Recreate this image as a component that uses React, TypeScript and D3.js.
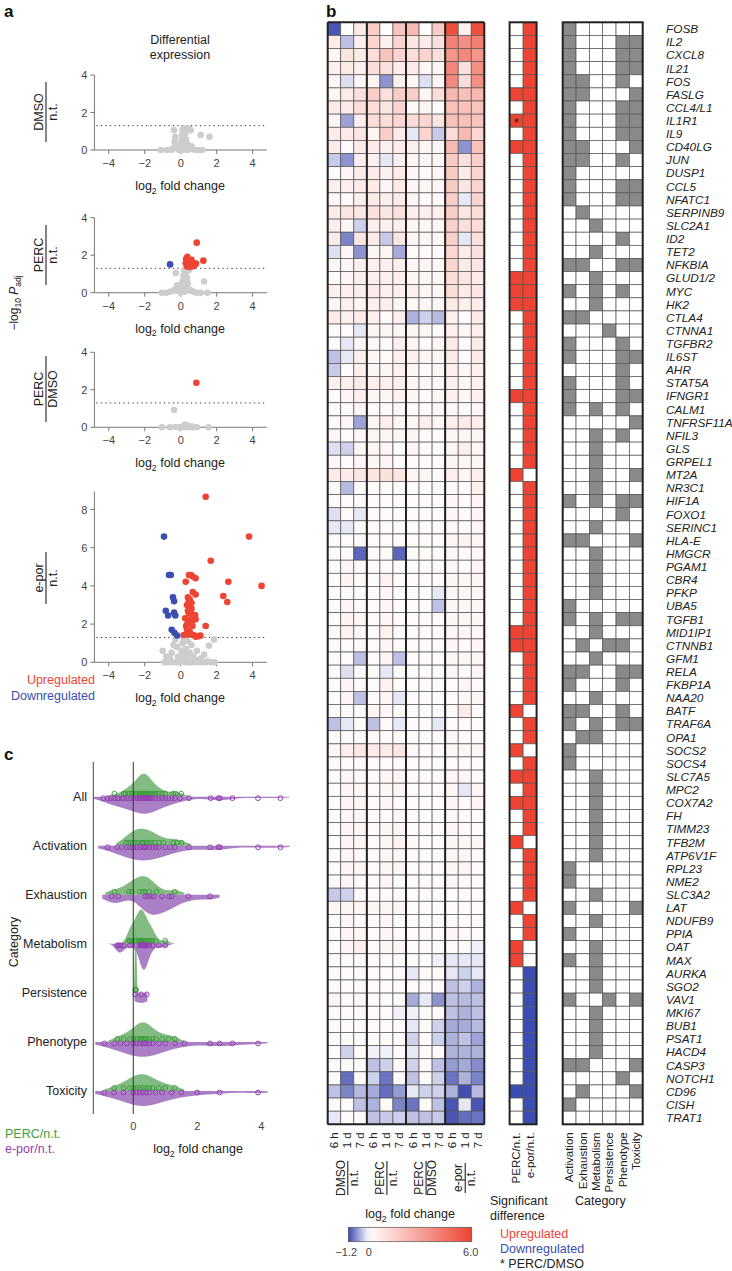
import React from 'react';
import * as d3 from 'd3';

const FONT = '"Liberation Sans", Arial, Helvetica, sans-serif';
const RED = '#ee4433';
const BLUE = '#3a4db0';
const GRAYPT = '#cdcdcd';
const GREEN = '#3e9e3e';
const PURPLE = '#9440b2';
const TXT = '#222';

// ---------- panel b data ----------
const genes = ['FOSB','IL2','CXCL8','IL21','FOS','FASLG','CCL4/L1','IL1R1','IL9','CD40LG','JUN','DUSP1','CCL5','NFATC1','SERPINB9','SLC2A1','ID2','TET2','NFKBIA','GLUD1/2','MYC','HK2','CTLA4','CTNNA1','TGFBR2','IL6ST','AHR','STAT5A','IFNGR1','CALM1','TNFRSF11A','NFIL3','GLS','GRPEL1','MT2A','NR3C1','HIF1A','FOXO1','SERINC1','HLA-E','HMGCR','PGAM1','CBR4','PFKP','UBA5','TGFB1','MID1IP1','CTNNB1','GFM1','RELA','FKBP1A','NAA20','BATF','TRAF6A','OPA1','SOCS2','SOCS4','SLC7A5','MPC2','COX7A2','FH','TIMM23','TFB2M','ATP6V1F','RPL23','NME2','SLC3A2','LAT','NDUFB9','PPIA','OAT','MAX','AURKA','SGO2','VAV1','MKI67','BUB1','PSAT1','HACD4','CASP3','NOTCH1','CD96','CISH','TRAT1'];
const timeLabels = ['6 h', '1 d', '7 d'];
const groupNum = ['DMSO', 'PERC', 'PERC', 'e-por'];
const groupDen = ['n.t.', 'n.t.', 'DMSO', 'n.t.'];
const heat = [
[-1.1,0,0.65,1.6,0,1.9,2.2,0,1.7,5.6,0.5,5.6],
[0.65,-0.4,0.5,1.4,0.5,1.4,0.8,0.65,1.0,4.0,3.6,4.1],
[0.3,0.8,0.65,1.1,1.9,1.4,1.1,1.4,1.0,3.4,3.8,3.4],
[0.5,0.65,0.5,1.1,1.0,0.65,0.65,0.3,0.3,3.9,1.0,3.6],
[0.3,-0.2,0.3,0.3,-0.7,0.5,0.3,-0.2,0.3,3.8,1.1,3.6],
[0.3,0.65,1.0,1.6,1.0,1.6,1.6,0.3,1.1,2.3,2.1,2.3],
[0.65,0.65,1.1,1.1,0.8,1.4,0.15,0.3,0.15,2.0,2.0,1.9],
[0.3,-0.6,0.5,1.1,1.1,1.3,1.1,1.3,0.8,2.0,2.0,1.9],
[0.65,0.65,0.8,0.3,1.6,0.65,-0.15,1.4,-0.35,1.1,2.2,1.3],
[0.65,0.15,0.65,0.65,0.5,0.65,0.5,0.3,0.3,2.2,-0.7,2.0],
[-0.35,-0.7,0.5,0.5,-0.15,0.5,0.3,0.3,0.3,1.7,1.0,1.6],
[0.15,0.3,0.65,0.65,0.5,0.65,0.3,0.15,0.3,1.7,0.65,1.4],
[0.5,0.5,0.65,0.65,0.3,0.65,0.3,0.3,0.3,1.7,0.8,1.4],
[0.3,0.15,0.5,0.65,0.5,0.65,0.3,0.15,0.15,1.6,-0.15,1.4],
[0.65,0.8,0.8,1.0,0.8,1.0,0.5,0.5,0.5,1.6,0.8,1.1],
[0.5,0.3,-0.3,0.5,0.5,0.5,0.3,0.3,0.3,1.5,1.0,1.1],
[0.65,-0.8,0.8,0.65,-0.35,0.8,0.3,0.3,0.3,1.5,-0.15,1.0],
[-0.2,0.3,-0.7,0.3,0.3,-0.55,0.15,0.15,0.15,1.3,0.65,1.0],
[0.3,0.3,0.5,0.5,0.5,0.5,0.3,0.3,0.3,1.3,0.65,0.8],
[0.15,0.3,0.5,0.5,0.5,0.5,0.3,0.3,0.3,1.1,0.8,0.65],
[0.5,0.5,0.5,0.65,0.5,0.5,0.5,0.3,0.3,1.1,0.65,0.8],
[0.3,0.5,0.3,0.5,0.5,0.3,0.3,0.3,0.3,0.65,0.5,0.65],
[0.65,0.5,0.65,0.5,0.15,0.5,-0.5,-0.3,-0.45,0.5,0.15,0.65],
[0.15,0.15,-0.15,0.3,0.3,0.3,0.3,0.3,0.15,0.5,0.3,0.5],
[0.15,-0.15,0.3,0.3,0.15,0.5,0.3,0.15,0.3,0.65,0.15,0.65],
[-0.4,-0.15,0.5,0.3,0.15,0.5,0.5,0.3,0.3,0.65,0.15,0.65],
[-0.35,0.15,0.5,0.3,0.3,0.5,0.3,0.15,0.3,0.5,0.3,0.5],
[0.5,0.5,0.65,0.5,0.5,0.5,0.3,0.3,0.3,0.5,0.3,0.5],
[0.15,0.3,0.5,0.3,0.3,0.5,0.3,0.15,0.3,0.5,0.3,0.5],
[0.15,0.15,0.3,0.15,0.15,0.3,0.15,0.15,0.3,0.3,0.15,0.3],
[0.15,0.3,-0.6,0.3,0.5,0.3,0.3,0.5,0.3,0.5,0.65,0.5],
[0.3,0.15,0.3,0.3,0.3,0.3,0.3,0.15,0.15,0.3,0.3,0.3],
[-0.2,-0.3,0.3,0.3,0.3,0.15,0.3,0.15,0.15,0.3,0.5,0.3],
[0.3,0.15,0.3,0.3,0.3,0.15,0.15,0.15,0.15,0.3,0.3,0.3],
[0.65,0.65,0.8,0.8,1.0,0.8,0.3,0.3,0.15,0.5,0.3,0.5],
[0.15,-0.45,0.15,0.15,0.15,0.15,0.15,0.15,0.15,0.3,0.15,0.5],
[0.15,0.15,0.15,0.15,0.15,0.15,0.15,0.15,0.15,0.3,0.15,0.3],
[-0.2,0.15,-0.15,0.15,0.15,0.15,0.15,0.15,0.15,0.3,0.15,0.3],
[-0.15,-0.15,0.15,0.15,0.15,0.15,0.15,0.15,0.15,0.3,0.15,0.3],
[0.15,0.15,0.15,0.15,0.15,0.15,0.15,0.15,0.15,0.3,0.4,0.3],
[0.15,0.15,-1.0,0.15,0.15,-1.0,0.15,0.15,0.15,0.3,0.15,0.3],
[0.15,0.3,0.15,0.15,0.15,0.15,0.15,0.15,0.15,0.3,0.15,0.3],
[0.15,0.4,0.15,0.15,0.4,0.15,0.15,0.15,0.15,0.3,0.3,0.3],
[0.15,0.15,0.15,0.15,0.3,0.15,0.15,0.15,-0.15,0.3,0.3,0.3],
[0.15,0.3,0.15,0.15,0.3,0.15,0.15,0.15,-0.4,0.3,0.3,0.3],
[0.15,0.4,0.3,0.15,0.3,0.15,0.15,0.15,0.15,0.3,0.3,0.3],
[0.15,0.4,0.3,0.15,0.4,0.15,0.15,0.15,0.15,0.3,0.3,0.3],
[0.15,0.15,0.15,0.15,0.3,0.15,0.15,0.15,0.15,0.3,0.15,0.3],
[0.15,0.15,-0.4,0.15,0.3,-0.4,0.15,0.15,0.15,0.3,0.3,0.3],
[0.15,-0.2,0.15,0.15,-0.15,0.15,0.15,0.15,0.15,0.3,0.15,0.3],
[0.15,0.3,0.15,0.15,0.4,0.15,0.15,0.15,0.15,0.15,0.3,0.15],
[0.15,0.3,-0.4,0.15,0.3,-0.15,0.15,0.15,0.15,0.15,0.3,0.3],
[0.15,0.15,0.15,0.3,0.3,0.15,0.15,0.15,0.15,0.15,0.65,0.15],
[-0.4,-0.15,0.15,-0.4,0.15,-0.15,0.15,0.15,-0.15,0.15,0.15,0.15],
[0.15,0.15,0.15,0.15,0.15,0.15,0.15,0.15,0.15,0.3,0.15,0.15],
[0.3,0.5,0.75,0.65,0.65,0.8,0.15,0.15,0.15,0.3,0.3,0.3],
[0.15,0.15,0.15,0.15,0.15,0.15,0.15,0.15,0.15,0.15,0.15,0.15],
[0.15,0.3,0.15,0.15,0.3,0.3,0.15,0.15,0.15,0.3,0.3,0.15],
[0.15,0.3,0.3,0.15,0.3,0.3,0.15,0.15,0.15,0.3,-0.15,0.3],
[0.15,0.3,0.3,0.15,0.3,0.15,0.15,0.15,0.15,0.3,0.15,0.3],
[0.15,0.3,0.3,0.15,0.15,0.3,0.15,0.15,0.15,0.3,0.15,0.15],
[0.15,0.3,0.3,0.15,0.3,0.3,0.15,0.15,0.15,0.3,0.15,0.15],
[0.15,0.3,0.3,0.15,0.3,0.4,0.15,0.15,0.15,0.3,0.3,0.3],
[0.15,0.3,0.15,0.15,0.3,0.3,0.15,0.15,0.15,0.3,0.3,0.15],
[0.15,0.3,0.3,0.15,0.3,0.3,0.15,0.15,0.15,0.3,0.3,0.15],
[0.15,0.3,0.15,0.15,0.3,0.15,0.15,0.15,0.15,0.3,0.15,0.15],
[-0.35,-0.3,0.15,0.15,0.15,0.15,0.15,0.15,0.15,0.15,0.15,0.15],
[0.3,0.3,0.3,0.3,0.3,0.3,0.15,0.15,0.15,0.15,0.15,0.15],
[0.15,0.3,0.15,0.15,0.3,0.15,0.15,0.15,0.15,0.15,0.15,0.15],
[0.15,0.3,0.3,0.15,0.3,0.15,0.15,0.15,0.15,0.3,0.15,0.15],
[0.15,0.3,0.5,0.15,0.3,0.3,0.15,0.15,0.15,0.15,0.15,-0.1],
[0.15,0.15,0.15,0.15,0.15,0.15,0.15,0.15,-0.1,-0.15,-0.15,-0.15],
[0.15,0.15,0.15,0.15,0.15,0.15,-0.15,0.15,0.15,-0.15,-0.3,-0.15],
[0.15,0.15,0.15,0.15,0.15,0.15,0.15,0.15,0.15,-0.4,-0.3,-0.5],
[0.3,0.15,0.3,0.15,0.15,0.15,-0.55,-0.15,-0.7,-0.4,-0.45,-0.4],
[0.15,0.15,0.15,0.15,0.15,-0.1,-0.1,0.15,0.15,-0.4,-0.5,-0.4],
[0.15,0.15,0.15,0.15,0.15,0.15,-0.15,0.15,-0.3,-0.55,-0.55,-0.45],
[0.15,0.15,0.15,0.15,0.15,0.15,-0.3,0.15,-0.3,-0.5,-0.4,-0.6],
[0.15,-0.3,0.15,-0.1,-0.1,0.15,-0.15,0.15,0.15,-0.5,-0.5,-0.5],
[0.15,0.15,0.15,-0.4,-0.3,0.15,-0.3,0.15,-0.4,-0.65,-0.55,-0.75],
[0.15,-0.95,0.15,-0.3,-0.9,0.15,-0.4,0.15,-0.3,-0.9,-0.5,-0.8],
[-0.4,-0.8,-0.45,-0.55,-0.95,-0.65,-0.15,-0.3,-0.3,-0.5,-1.15,-0.45],
[0.15,0.15,-0.4,-0.5,0.15,-0.8,-0.9,0.15,-0.4,-1.1,-0.15,-1.1],
[-0.15,0.15,0.15,-0.4,-0.35,-0.3,-0.4,-0.4,-0.35,-1.1,-0.95,-0.9],
];
const sigLabels = ['PERC/n.t.', 'e-por/n.t.'];
const percUpRows = [5,7,9,19,20,21,28,34,46,47,52,55,57,59,62,67,70,71];
const percDownRows = [81];
const percVsDmsoRows = [7];
const eporNotSigRows = [34,52,55,62,67,70,71];
const eporDownRows = [72,73,74,75,76,77,78,79,80,81,82,83];
const catNames = ['Activation','Exhaustion','Metabolism','Persistence','Phenotype','Toxicity'];
const catMembership = ['100000','100011','100011','100011','110010','110001','100011','100011','100011','110001','110010','100000','100011','100011','010000','001000','000010','001000','110011','001000','101010','001000','110000','000100','100010','100011','000010','100010','100011','101010','000001','001010','001000','001000','001001','001000','101011','000010','001000','110001','001000','001000','001000','001000','100000','101011','001000','010110','001000','110011','100010','001000','110010','101011','011000','100000','100000','001000','001000','001000','001000','001000','001000','001000','100000','100000','001000','100001','001000','100000','001000','101000','001000','001000','100101','001000','001000','001000','001000','110001','000010','010001','100000','000000'];
const colorbarTicks = [-1.2, 0, 6.0];

// ---------- panel a data: [log2 fold change, -log10 Padj] ----------
const volDMSO = [[-1.1,0],[-0.75,0],[-0.5,0.02],[-0.4,0.1],[-0.37,1.07],[-0.3,0.71],[-0.35,0.45],[-0.25,0.3],[-0.15,0.15],[-0.1,0.02],[0,0],[0.05,0.2],[0.05,0.5],[0.08,0.8],[0.1,1.05],[0.15,1.15],[0.22,1.1],[0.3,1.15],[0.4,1.15],[0.5,1.12],[0.55,1.05],[0.25,0.9],[0.2,0.7],[0.3,0.55],[0.15,0.4],[0.35,0.3],[0.25,0.15],[0.45,0.1],[0.6,0.05],[0.8,0],[1.0,0],[1.2,0],[1.11,0.8],[1.6,0.71],[0.15,0],[0.4,0],[0.6,0.2],[0.1,0.3]];
const volPERC = [[-1.05,0],[-0.8,0],[-0.6,0.05],[-0.35,0.15],[-0.28,1.05],[-0.2,0.4],[-0.1,0.1],[0,0],[0.05,0.3],[0.1,0.6],[0.15,0.9],[0.2,1.2],[0.25,1.25],[0.3,1.1],[0.35,0.8],[0.4,0.5],[0.3,0.3],[0.5,0.15],[0.6,0.1],[0.7,0.05],[0.9,0],[1.1,0],[1.3,0.6],[1.48,0],[0.2,0.05],[0.45,1.2],[0.1,0.2],[0.89,2.67],[1.26,1.71],[0.37,1.92],[0.28,1.57],[0.4,1.7],[0.45,1.45],[0.55,1.55],[0.6,1.75],[0.7,1.6],[0.75,1.45],[0.5,1.38],[0.35,1.4],[0.65,1.4],[0.85,1.55],[0.3,1.8],[-0.59,1.51]];
const volPERCDMSO = [[-1.05,0],[-0.6,0],[-0.37,0.92],[-0.3,0.02],[-0.1,0],[0.05,0.02],[0.15,0.05],[0.25,0.15],[0.3,0.05],[0.4,0],[0.5,0.02],[0.7,0],[0.9,0],[1.55,0],[0.2,0],[0.35,0.1],[0.6,0.05],[0.87,2.38]];
const volEpor = [[1.39,8.67],[3.8,6.58],[1.67,5.32],[2.65,4.22],[2.37,3.47],[2.59,3.16],[4.5,4.0],[0.46,4.57],[0.57,4.57],[0.65,4.5],[0.28,4.22],[0.83,4.4],[0.67,3.68],[0.83,3.55],[0.4,3.4],[0.45,3.2],[0.5,3.3],[0.35,3.0],[0.5,2.9],[0.6,2.8],[0.46,2.55],[0.55,2.6],[0.4,2.7],[0.5,2.2],[0.38,2.05],[0.3,1.9],[0.6,2.1],[0.8,2.48],[0.83,2.25],[1.39,1.9],[0.72,1.43],[0.83,1.34],[1.0,1.37],[0.17,1.43],[0.5,1.6],[0.35,1.7],[0.65,1.9],[0.25,2.3],[0.6,3.1],[0.7,2.4],[0.45,1.45],[1.1,1.4],
[-0.93,6.58],[-0.65,4.57],[-0.55,4.57],[-0.43,3.4],[-0.37,3.2],[-0.83,2.7],[-0.7,2.45],[-0.37,2.6],[-0.3,2.45],[-0.5,1.7],[-0.35,1.55],[-0.2,1.4],
[-1.0,0.6],[-0.9,0],[-0.7,0],[-0.6,0.2],[-0.5,0.5],[-0.4,0.9],[-0.3,1.2],[-0.2,0.8],[-0.15,0.3],[-0.05,0],[0,0.15],[0.05,0.6],[0.1,1.0],[0.15,1.25],[0.2,0.4],[0.3,0.7],[0.35,0.2],[0.4,1.1],[0.5,0.5],[0.55,0],[0.6,0.9],[0.7,0.3],[0.8,0.1],[0.9,0.6],[1.0,0],[1.1,0.2],[1.2,0],[1.3,0.4],[1.5,0.05],[1.57,0.87],[1.7,0],[1.85,1.2],[1.9,0],[-0.8,0.3],[0.25,0],[0.45,0],[0.65,0],[0.85,0],[-0.25,0],[-0.45,0],[1.4,0]];
const volcanoTicksX = [-4, -2, 0, 2, 4];
const pThreshold = 1.3;

// ---------- panel c data: log2 fold change per category ----------
const cCategories = ['All','Activation','Exhaustion','Metabolism','Persistence','Phenotype','Toxicity'];
const cPerc = [
 [-0.59,-0.3,-0.25,-0.14,-0.05,-0.03,0.05,0.1,0.15,0.2,0.22,0.25,0.28,0.3,0.32,0.35,0.38,0.4,0.42,0.45,0.5,0.55,0.6,0.65,0.7,0.8,0.9,1.0,1.25,1.32,1.5],
 [-0.23,-0.16,-0.08,0,0.08,0.16,0.26,0.3,0.33,0.42,0.5,0.57,0.68,0.81,0.94,1.25,1.36,1.51],
 [-0.59,-0.14,-0.05,0.2,0.3,0.37,0.5,0.73,1.3],
 [-0.14,-0.1,-0.05,0,0.05,0.1,0.15,0.18,0.2,0.22,0.25,0.27,0.3,0.32,0.35,0.4,0.45,0.5,0.55,0.6,0.7,1.0],
 [0.06,0.09],
 [-0.5,-0.3,-0.1,0,0.1,0.2,0.25,0.3,0.35,0.4,0.5,0.6,0.7,0.9,1.1,1.3],
 [-0.6,-0.3,-0.1,0,0.1,0.2,0.3,0.4,0.5,0.6,0.8,1.0,1.3],
];
const cEpor = [
 [-0.94,-0.8,-0.7,-0.6,-0.5,-0.45,-0.35,-0.3,-0.2,-0.1,0,0.1,0.15,0.2,0.25,0.3,0.32,0.35,0.38,0.4,0.42,0.45,0.5,0.55,0.6,0.7,0.8,0.9,1.0,1.1,1.2,1.3,1.46,1.74,2.42,2.66,2.71,3.1,3.9,4.6],
 [-0.8,-0.5,-0.36,-0.2,-0.1,0,0.1,0.2,0.3,0.35,0.4,0.5,0.6,0.7,0.8,1.0,1.15,1.3,1.74,2.4,2.66,2.71,3.9,4.6],
 [-0.68,-0.47,0.37,0.45,0.55,0.64,0.9,1.12,1.2,1.72,2.4],
 [-0.5,-0.45,-0.4,-0.3,-0.1,0.1,0.2,0.25,0.27,0.3,0.3,0.32,0.35,0.35,0.38,0.4,0.45,0.5,0.6,0.8,1.0],
 [0.06,0.25,0.42],
 [-0.9,-0.6,-0.4,-0.2,0,0.1,0.2,0.3,0.35,0.4,0.5,0.6,0.8,1.0,1.3,1.6,2.4,2.7,3.1,3.9],
 [-0.9,-0.6,-0.3,0,0.1,0.2,0.3,0.4,0.5,0.7,0.9,1.2,1.5,2.0,2.7,3.9],
];
const cTicksX = [0, 2, 4];

// ---------- helpers ----------
const heatColor = d3.scaleLinear<string>().domain([-1.2, 0, 6]).range(['#3b46ad', '#ffffff', '#ec4431']).clamp(true);

function kde(values: number[], grid: number[], minBw: number) {
  const n = values.length;
  const sorted = values.slice().sort(d3.ascending);
  const sd = d3.deviation(values) || 0.05;
  const iqr = ((d3.quantile(sorted, 0.75) || 0) - (d3.quantile(sorted, 0.25) || 0)) / 1.34;
  let bw = 0.9 * Math.min(sd, iqr > 0 ? iqr : sd) * Math.pow(n, -0.2);
  bw = Math.max(bw, minBw);
  return grid.map((x) => {
    const d = d3.mean(values, (v) => Math.exp(-0.5 * ((x - v) / bw) ** 2) / (bw * Math.sqrt(2 * Math.PI))) || 0;
    return [x, d] as [number, number];
  });
}

function Log2Label({ x, y, size = 12, anchor = 'middle' }: any) {
  return (
    <text x={x} y={y} fontSize={size} textAnchor={anchor} fill={TXT}>
      log<tspan fontSize={size * 0.7} dy={size * 0.3}>2</tspan>
      <tspan dy={-size * 0.3}> fold change</tspan>
    </text>
  );
}

function Frac({ x, y, num, den, size = 12, len }: any) {
  return (
    <g transform={`translate(${x},${y}) rotate(-90)`} fill={TXT} fontSize={size}>
      <text x={0} y={-3} textAnchor="middle">{num}</text>
      <line x1={-len / 2} x2={len / 2} y1={0} y2={0} stroke={TXT} strokeWidth={1.1} />
      <text x={0} y={size * 0.85} textAnchor="middle">{den}</text>
    </g>
  );
}

const fmt = (v: number) => (v < 0 ? '\u2212' + Math.abs(v) : String(v));

export default function App() {
  const W = 732, H = 1271;

  // ---- panel a ----
  const vx = d3.scaleLinear().domain([-4.8, 4.8]).range([94.4, 267]);
  const volcanoes = [
    { pts: volDMSO, num: 'DMSO', den: 'n.t.', y0: 150, yMax: 4, unit: 18.75, ticks: [0, 2, 4], cy: 112, len: 60 },
    { pts: volPERC, num: 'PERC', den: 'n.t.', y0: 292.7, yMax: 4, unit: 18.75, ticks: [0, 2, 4], cy: 255, len: 60 },
    { pts: volPERCDMSO, num: 'PERC', den: 'DMSO', y0: 427.3, yMax: 4, unit: 18.75, ticks: [0, 2, 4], cy: 389, len: 66 },
    { pts: volEpor, num: 'e-por', den: 'n.t.', y0: 662.3, yMax: 9.1, unit: 19.1, ticks: [0, 2, 4, 6, 8], cy: 578, len: 52 },
  ];
  const ptColor = (p: number[]) => (p[1] > pThreshold ? (p[0] > 0 ? RED : BLUE) : GRAYPT);

  // ---- panel b ----
  const hx = d3.scaleBand<number>().domain(d3.range(12)).range([327.7, 484.3]);
  const hy = d3.scaleBand<number>().domain(d3.range(genes.length)).range([22.3, 1124.3]);
  const sx = d3.scaleBand<number>().domain([0, 1]).range([509.6, 536.6]);
  const cx = d3.scaleBand<number>().domain(d3.range(6)).range([562.7, 642.7]);
  const cw = hx.bandwidth(), ch = hy.bandwidth();
  const top = hy(0)!, bottom = hy(genes.length - 1)! + ch;
  const sigColor = (col: number, r: number) => {
    if (col === 0) return percUpRows.includes(r) ? RED : percDownRows.includes(r) ? BLUE : '#fff';
    return eporDownRows.includes(r) ? BLUE : eporNotSigRows.includes(r) ? '#fff' : RED;
  };
  const cbx = d3.scaleLinear().domain([-1.2, 6]).range([348.3, 471.7]);
  const gradStops = d3.range(0, 1.0001, 0.05).map((t) => ({ t, c: heatColor(-1.2 + 7.2 * t) }));

  // ---- panel c ----
  const px = d3.scaleLinear().domain([-1.25, 4.9]).range([93.3, 290]);
  const pcy = d3.scalePoint<string>().domain(cCategories).range([796.7, 1091]);
  const grid = d3.range(-1.6, 5.2, 0.01);
  const hScaleG = 23 / (d3.max(kde(cPerc[0], grid, 0.03), (d) => d[1]) || 1);
  const hScaleP = 17 / (d3.max(kde(cEpor[0], grid, 0.03), (d) => d[1]) || 1);
  const trim = (vals: number[], dens: [number, number][], pad: number) => {
    const lo = (d3.min(vals) as number) - pad, hi = (d3.max(vals) as number) + pad;
    return dens.filter((d) => d[0] >= lo && d[0] <= hi);
  };
  // rescale a density so that its peak does not exceed a maximum height (shape preserved)
  const fit = (dens: [number, number][], scale: number, maxH: number) => {
    const peak = (d3.max(dens, (d) => d[1]) || 1) * scale;
    const s = peak > maxH ? maxH / peak : 1;
    return dens.map((d) => [d[0], d[1] * scale * s] as [number, number]);
  };

  return (
    <svg width={W} height={H} style={{ position: 'absolute', left: 0, top: 0, background: '#fff' }} fontFamily={FONT}>
      {/* panel letters */}
      <text x={4} y={17} fontSize={17} fontWeight="bold" fill="#111">a</text>
      <text x={326} y={17} fontSize={17} fontWeight="bold" fill="#111">b</text>
      <text x={4} y={760} fontSize={17} fontWeight="bold" fill="#111">c</text>

      {/* ===== panel a ===== */}
      <text x={180} y={44} fontSize={12.5} textAnchor="middle" fill={TXT}>Differential</text>
      <text x={180} y={59} fontSize={12.5} textAnchor="middle" fill={TXT}>expression</text>
      <g transform="translate(18,303) rotate(-90)" fill={TXT} fontSize={12}>
        <text textAnchor="middle">
          {'\u2212log'}<tspan fontSize={8.5} dy={3}>10</tspan>
          <tspan dy={-3} fontStyle="italic"> P</tspan>
          <tspan fontSize={8.5} dy={3}>adj</tspan>
        </text>
      </g>
      {volcanoes.map((v, i) => {
        const vy = d3.scaleLinear().domain([0, v.yMax]).range([v.y0, v.y0 - v.yMax * v.unit]);
        const grays = v.pts.filter((p) => ptColor(p) === GRAYPT);
        const cols = v.pts.filter((p) => ptColor(p) !== GRAYPT);
        return (
          <g key={i}>
            <line x1={vx(-4.8)} x2={vx(-4.8)} y1={vy(v.ticks[v.ticks.length - 1]) - (i === 3 ? 18 : 0)} y2={v.y0} stroke="#777" />
            <line x1={vx(-4.8)} x2={vx(4.8)} y1={v.y0} y2={v.y0} stroke="#777" />
            {v.ticks.map((t) => (
              <g key={t}>
                <line x1={vx(-4.8) - 4} x2={vx(-4.8)} y1={vy(t)} y2={vy(t)} stroke="#777" />
                <text x={vx(-4.8) - 7} y={vy(t) + 4} fontSize={11} textAnchor="end" fill="#444">{t}</text>
              </g>
            ))}
            {volcanoTicksX.map((t) => (
              <g key={t}>
                <line x1={vx(t)} x2={vx(t)} y1={v.y0} y2={v.y0 + 4} stroke="#777" />
                <text x={vx(t)} y={v.y0 + 17} fontSize={11} textAnchor="middle" fill="#444">{fmt(t)}</text>
              </g>
            ))}
            <line x1={vx(-4.8) + 2} x2={vx(4.8)} y1={vy(pThreshold)} y2={vy(pThreshold)} stroke="#333" strokeWidth={1} strokeDasharray="1.3 3.2" />
            {grays.map((p, j) => <circle key={'g' + j} cx={vx(p[0])} cy={vy(p[1])} r={3.3} fill={GRAYPT} />)}
            {cols.map((p, j) => <circle key={'c' + j} cx={vx(p[0])} cy={vy(p[1])} r={3.3} fill={ptColor(p)} />)}
            <Log2Label x={180} y={v.y0 + 40} size={12.5} />
            <Frac x={46} y={v.cy} num={v.num} den={v.den} size={12.5} len={v.len} />
          </g>
        );
      })}
      <text x={95} y={684} fontSize={12.5} textAnchor="end" fill={RED}>Upregulated</text>
      <text x={95} y={700} fontSize={12.5} textAnchor="end" fill={BLUE}>Downregulated</text>

      {/* ===== panel b ===== */}
      {heat.map((row, r) => row.map((v, c) => (
        <rect key={`h${r}-${c}`} x={hx(c)} y={hy(r)} width={cw} height={ch} fill={heatColor(v)} stroke="#555" strokeWidth={0.7} />
      )))}
      {[0, 3, 6, 9, 12].map((c) => (
        <line key={'gl' + c} x1={c === 12 ? hx(11)! + cw : hx(c)} x2={c === 12 ? hx(11)! + cw : hx(c)} y1={top} y2={bottom} stroke="#222" strokeWidth={2} />
      ))}
      <line x1={hx(0)} x2={hx(11)! + cw} y1={top} y2={top} stroke="#222" strokeWidth={2} />
      <line x1={hx(0)} x2={hx(11)! + cw} y1={bottom} y2={bottom} stroke="#222" strokeWidth={2} />

      {genes.map((g, r) => [0, 1].map((c) => (
        <rect key={`s${r}-${c}`} x={sx(c)} y={hy(r)} width={sx.bandwidth()} height={ch} fill={sigColor(c, r)} stroke="#555" strokeWidth={0.7} />
      )))}
      {percVsDmsoRows.map((r) => (
        <text key={'st' + r} x={sx(0)! + sx.bandwidth() / 2} y={hy(r)! + ch / 2 + 6} fontSize={13} textAnchor="middle" fill="#222">*</text>
      ))}
      <rect x={sx(0)} y={top} width={sx.bandwidth() * 2} height={bottom - top} fill="none" stroke="#222" strokeWidth={2} />

      {catMembership.map((m, r) => d3.range(6).map((c) => (
        <rect key={`c${r}-${c}`} x={cx(c)} y={hy(r)} width={cx.bandwidth()} height={ch} fill={m[c] === '1' ? '#8a8a8a' : '#fff'} stroke="#555" strokeWidth={0.7} />
      )))}
      <rect x={cx(0)} y={top} width={cx.bandwidth() * 6} height={bottom - top} fill="none" stroke="#222" strokeWidth={2} />

      {genes.map((g, r) => (
        <text key={'gn' + r} x={666} y={hy(r)! + ch / 2 + 4.3} fontSize={11.8} fontStyle="italic" fill={TXT}>{g}</text>
      ))}

      {/* column labels */}
      {d3.range(12).map((c) => (
        <text key={'tl' + c} transform={`translate(${hx(c)! + cw / 2 + 4},${bottom + 8}) rotate(-90)`} fontSize={11.5} textAnchor="end" fill={TXT}>{timeLabels[c % 3]}</text>
      ))}
      {groupNum.map((n, gi) => (
        <Frac key={'gf' + gi} x={hx(gi * 3)! + cw * 1.5 + 0.5} y={1178} num={n} den={groupDen[gi]} size={12} len={gi === 3 ? 30 : 34} />
      ))}
      {sigLabels.map((s, i) => (
        <text key={'sl' + i} transform={`translate(${sx(i)! + sx.bandwidth() / 2 + 4},${bottom + 8}) rotate(-90)`} fontSize={11.5} textAnchor="end" fill={TXT}>{s}</text>
      ))}
      {catNames.map((s, i) => (
        <text key={'cl' + i} transform={`translate(${cx(i)! + cx.bandwidth() / 2 + 4},${bottom + 8}) rotate(-90)`} fontSize={11.5} textAnchor="end" fill={TXT}>{s}</text>
      ))}
      <text x={490} y={1205} fontSize={12.5} fill={TXT}>Significant</text>
      <text x={490} y={1220} fontSize={12.5} fill={TXT}>difference</text>
      <text x={575} y={1205} fontSize={12.5} fill={TXT}>Category</text>

      {/* colorbar */}
      <defs>
        <linearGradient id="cbar" x1="0" x2="1" y1="0" y2="0">
          {gradStops.map((s, i) => <stop key={i} offset={s.t} stopColor={s.c} />)}
        </linearGradient>
      </defs>
      <Log2Label x={410} y={1218} size={12.5} />
      <rect x={cbx(-1.2)} y={1227.3} width={cbx(6) - cbx(-1.2)} height={14.4} fill="url(#cbar)" stroke="#555" strokeWidth={0.7} />
      {colorbarTicks.map((t) => (
        <text key={'cb' + t} x={cbx(t) + (t === -1.2 ? -2 : t === 6 ? -1 : 0)} y={1256} fontSize={11} textAnchor="middle" fill="#444">{t === 0 ? '0' : (t < 0 ? '\u2212' : '') + Math.abs(t).toFixed(1)}</text>
      ))}
      <text x={500} y={1238} fontSize={12.5} fill={RED}>Upregulated</text>
      <text x={500} y={1253} fontSize={12.5} fill={BLUE}>Downregulated</text>
      <text x={500} y={1268} fontSize={12.5} fill={TXT}>* PERC/DMSO</text>

      {/* ===== panel c ===== */}
      <line x1={px(-1.25)} x2={px(-1.25)} y1={762} y2={1114} stroke="#444" strokeWidth={1} />
      {cTicksX.map((t) => (
        <g key={'ct' + t}>
          <text x={px(t)} y={1130} fontSize={11} textAnchor="middle" fill="#444">{t}</text>
        </g>
      ))}
      {cCategories.map((cat, i) => {
        const y = pcy(cat)!;
        const persist = cat === 'Persistence';
        const metab = cat === 'Metabolism';
        const gd = fit(trim(cPerc[i], kde(cPerc[i], grid, persist ? 0.02 : 0.06), persist ? 0.06 : 0.3), hScaleG, persist ? 68 : metab ? 36 : 30);
        const pd = fit(trim(cEpor[i], kde(cEpor[i], grid, persist ? 0.3 : 0.08), persist ? 0.02 : 0.3), hScaleP, persist ? 10 : metab ? 26 : 20);
        const areaUp = d3.area<[number, number]>().x((d) => px(d[0])).y0(y).y1((d) => y - d[1]).curve(d3.curveBasis);
        const areaDn = d3.area<[number, number]>().x((d) => px(d[0])).y0(y).y1((d) => y + d[1]).curve(d3.curveBasis);
        return (
          <g key={cat}>
            <path d={areaUp(gd) || ''} fill="#6db06d" fillOpacity={0.85} />
            <path d={areaDn(pd) || ''} fill="#9c68bb" fillOpacity={0.85} />
            {cPerc[i].map((v, j) => <circle key={'gp' + j} cx={px(v)} cy={y - 3} r={2.4} fill="none" stroke={GREEN} strokeWidth={1} />)}
            {cEpor[i].map((v, j) => <circle key={'pp' + j} cx={px(v)} cy={y + 1.5} r={2.4} fill="none" stroke={PURPLE} strokeWidth={1} />)}
            <text x={87} y={y + 4} fontSize={12.5} textAnchor="end" fill={TXT}>{cat}</text>
          </g>
        );
      })}
      <line x1={px(0)} x2={px(0)} y1={762} y2={1114} stroke="#333" strokeWidth={1} />
      <Log2Label x={198} y={1153} size={12.5} />
      <text transform="translate(18,942) rotate(-90)" fontSize={12.5} textAnchor="middle" fill={TXT}>Category</text>
      <text x={5} y={1138} fontSize={12.5} fill={GREEN}>PERC/n.t.</text>
      <text x={5} y={1153} fontSize={12.5} fill={PURPLE}>e-por/n.t.</text>
    </svg>
  );
}
